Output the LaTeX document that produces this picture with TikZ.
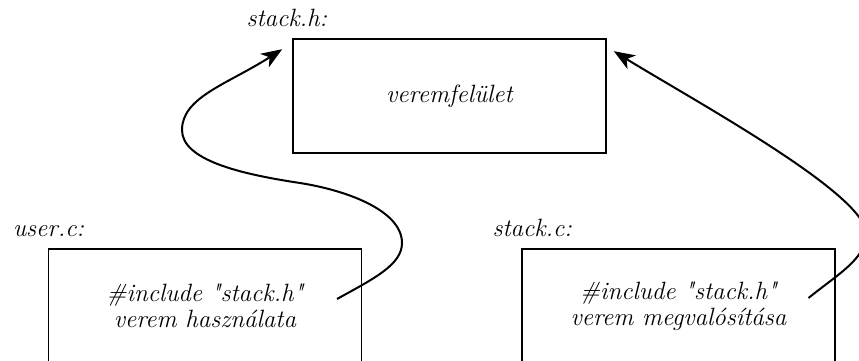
\documentclass[tikz,border=0pt]{standalone}
\usetikzlibrary{arrows.meta,calc}

\tikzset{
  filebox/.style={draw, line width=0.8pt, minimum width=156.5pt, minimum height=57pt,
    inner sep=0pt, align=center, font=\fontsize{12.5}{13}\selectfont\itshape},
  filename/.style={anchor=base west, inner sep=0pt, font=\fontsize{12.5}{13}\selectfont\itshape},
  link/.style={line width=1pt, -{Stealth[length=10.5pt,width=8pt,inset=3pt]}}
}
\newcommand{\inclh}{\#include \textquotedbl stack.h\textquotedbl}

\begin{document}
\begin{tikzpicture}[x=0.5pt,y=-0.5pt]
\useasboundingbox (0,0) rectangle (859,360);
\clip (0,0) rectangle (859,360);

% header and the two source files
\node[filebox] (hbox) at (449.5,96) {veremfelület};
\node[filebox] (ubox) at (205,306) {\inclh\\verem használata};
\node[filebox] (cbox) at (678.5,306) {\inclh\\verem megvalósítása};

\node[filename] (hname) at ($(hbox.north west)+(-46,-12)$) {stack.h:};
\node[filename] (uname) at ($(ubox.north west)+(-35,-12)$) {user.c:};
\node[filename] (cname) at ($(cbox.north west)+(-29,-12)$) {stack.c:};

% where the include arrows start and end
\coordinate (usrc) at ($(ubox.center)+(132,-7)$);
\coordinate (csrc) at ($(cbox.center)+(130,-8)$);
\coordinate (utip) at ($(hbox.north west)+(-10,11)$);
\coordinate (ctip) at ($(hbox.north east)+(7,13)$);

\draw[link] (usrc) .. controls (373,279) and (402,265) .. (402,243)
  .. controls (402,210) and (345,190) .. (300,183)
  .. controls (240,174) and (182,160) .. (182,130)
  .. controls (182,97) and (228,84) .. (utip);
\draw[link] (csrc) .. controls (838,274) and (866,259) .. (866,234)
  .. controls (868,195) and (693,100) .. (ctip);

\end{tikzpicture}
\end{document}
